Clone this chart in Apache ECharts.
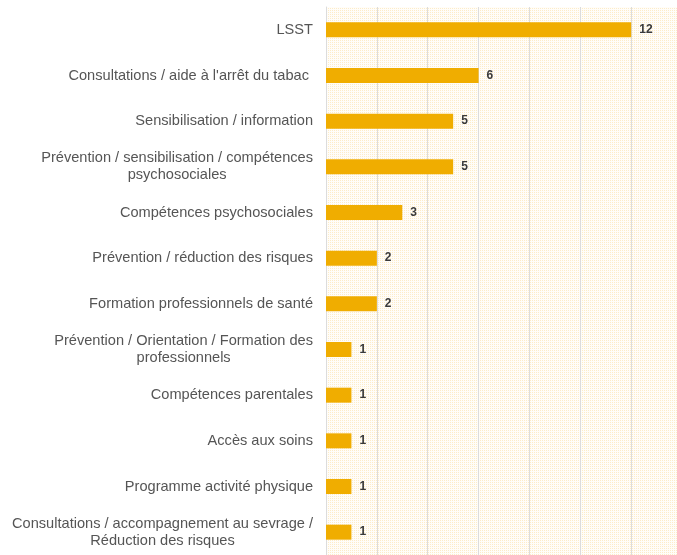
<!DOCTYPE html>
<html>
<head>
<meta charset="utf-8">
<script src="https://cdn.jsdelivr.net/npm/echarts@6/dist/echarts.min.js"></script>
<style>
  html, body { margin: 0; padding: 0; background: #fff; }
  #chart { width: 677px; height: 555px; }
</style>
</head>
<body>
<div id="chart"></div>
<script>
// categories, top to bottom
var categories = [
  'LSST',
  "Consultations / aide à l'arrêt du tabac ",
  'Sensibilisation / information',
  'Prévention / sensibilisation / compétences\npsychosociales',
  'Compétences psychosociales',
  'Prévention / réduction des risques',
  'Formation professionnels de santé',
  'Prévention / Orientation / Formation des\nprofessionnels',
  'Compétences parentales',
  'Accès aux soins',
  'Programme activité physique',
  'Consultations / accompagnement au sevrage /\nRéduction des risques'
]
var values = [12, 6, 5, 5, 3, 2, 2, 1, 1, 1, 1, 1]

// small dotted pattern for the plot background
var dots = document.createElement('canvas')
dots.width = 2
dots.height = 2
var ctx = dots.getContext('2d')
ctx.fillStyle = '#fffdf9'
ctx.fillRect(0, 0, 2, 2)
ctx.fillStyle = '#fdecc8'
ctx.fillRect(0, 0, 1, 1)

var chart = echarts.init(document.getElementById('chart'))
chart.setOption({
  animation: false,
  grid: {
    left: 326,
    right: 0,
    top: 7,
    bottom: -3,
    show: true,
    backgroundColor: { image: dots, repeat: 'repeat' },
    borderWidth: 0
  },
  xAxis: {
    type: 'value',
    min: 0,
    max: 13.8,
    interval: 2,
    axisLabel: { show: false },
    axisLine: { show: false },
    axisTick: { show: false },
    splitLine: { lineStyle: { color: '#dcdcdc', width: 1 } }
  },
  yAxis: {
    type: 'category',
    inverse: true,
    data: categories,
    axisTick: { show: false },
    axisLine: { lineStyle: { color: '#dcdcdc' } },
    axisLabel: {
      margin: 13,
      align: 'right',
      formatter: function (v) { return '{t|' + v.split('\n').join('}\n{t|') + '}' },
      rich: {
        t: {
          color: '#555',
          fontFamily: 'Liberation Sans, Arial, sans-serif',
          fontSize: 14.6,
          lineHeight: 17,
          align: 'center'
        }
      }
    }
  },
  series: [{
    type: 'bar',
    data: values,
    barWidth: 15,
    itemStyle: { color: '#f0ad00' },
    label: {
      show: true,
      position: 'right',
      distance: 8,
      color: '#3a3a3a',
      fontWeight: 'bold',
      fontSize: 12,
      fontFamily: 'Liberation Sans, Arial, sans-serif'
    }
  }]
})
</script>
</body>
</html>
